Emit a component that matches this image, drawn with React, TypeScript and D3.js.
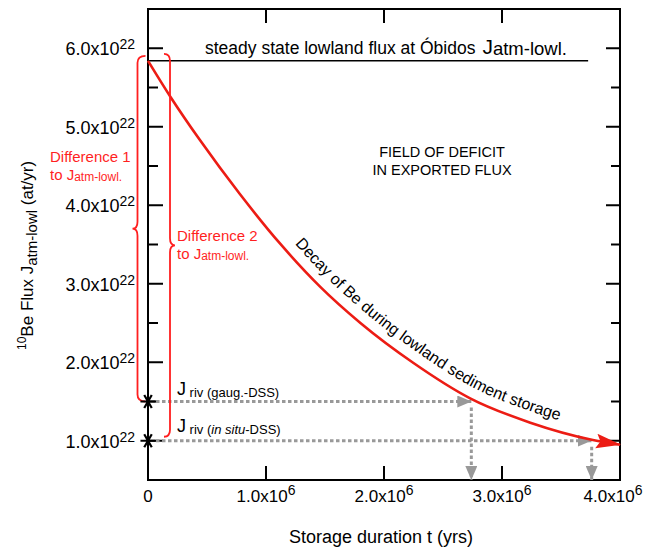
import React from 'react';
import * as d3 from 'd3';

const W = 650;
const H = 550;
const FONT = 'Liberation Sans, Arial, Helvetica, sans-serif';
const RED = '#ec1c14';
const TXT_RED = '#ff1f1f';
const GREY = '#999999';

// decay curve: storage time (yrs) vs 10Be flux (x10^22 at/yr)
const decayTime = [0, 0.195e6, 0.44e6, 0.78e6, 1.12e6, 1.46e6, 1.8e6, 2.25e6, 2.73e6, 3.24e6, 3.77e6, 4.0e6];
const decayFlux = [5.84, 5.37, 4.83, 4.14, 3.51, 2.96, 2.5, 1.99, 1.54, 1.23, 1.01, 0.95];

const steadyFlux = 5.84;
const steadyEnd = 3.73e6;

// river fluxes (gauging / in situ) and the storage durations they point to
const rivFlux = [1.5, 1.0];
const rivTime = [2.74e6, 3.76e6];

const xTicks = [0, 1e6, 2e6, 3e6, 4e6];
const xTickLabels = ['0', '1.0x10', '2.0x10', '3.0x10', '4.0x10'];
const xExp = '6';
const yTicks = [1, 2, 3, 4, 5, 6];
const yTickLabels = ['1.0x10', '2.0x10', '3.0x10', '4.0x10', '5.0x10', '6.0x10'];
const yMinor = [1.5, 2.5, 3.5, 4.5, 5.5];
const yExp = '22';

const x = d3.scaleLinear().domain([0, 4e6]).range([148, 620]);
const y = d3.scaleLinear().domain([0.5, 6.5]).range([480, 9]);

// curly brace along a vertical spine, dir -1 = tip to the left, +1 = tip to the right
function bracePath(sx: number, y0: number, y1: number, dir: number, curl: number, tip: number) {
  const ym = (y0 + y1) / 2;
  const r = 7;
  return `M${sx - dir * curl},${y0} Q${sx},${y0} ${sx},${y0 + r} L${sx},${ym - r} Q${sx},${ym} ${sx + dir * tip},${ym}`
    + ` Q${sx},${ym} ${sx},${ym + r} L${sx},${y1 - r} Q${sx},${y1} ${sx - dir * curl},${y1}`;
}

export default function App() {
  const pts: [number, number][] = decayTime.map((t, i) => [x(t), y(decayFlux[i])]);
  const line = d3.line().curve(d3.curveMonotoneX);
  const decayD = line(pts) || '';

  // baseline for the curved label, offset up-right of the curve
  const off = 11;
  const offPts: [number, number][] = pts.map((p, i) => {
    const a = pts[Math.max(i - 1, 0)];
    const b = pts[Math.min(i + 1, pts.length - 1)];
    const dx = b[0] - a[0];
    const dy = b[1] - a[1];
    const L = Math.hypot(dx, dy);
    return [p[0] + (off * dy) / L, p[1] - (off * dx) / L];
  });
  const labelD = line(offPts) || '';
  let startOffset = 0;
  for (let i = 1; i < offPts.length; i++) {
    const [x0, y0] = offPts[i - 1];
    const [x1, y1] = offPts[i];
    const seg = Math.hypot(x1 - x0, y1 - y0);
    if (x1 >= 295) {
      startOffset += seg * ((295 - x0) / (x1 - x0));
      break;
    }
    startOffset += seg;
  }

  const star = d3.symbol(d3.symbolAsterisk, 160)() || '';

  return (
    <svg width={W} height={H} style={{ position: 'absolute', left: 0, top: 0 }} fontFamily={FONT}>
      <defs>
        <marker id="redHead" viewBox="0 0 24 16" markerWidth={25} markerHeight={17} refX={23} refY={8}
          orient="auto" markerUnits="userSpaceOnUse">
          <path d="M0,1 L24,8 L0,15 L4,8 Z" fill={RED} />
        </marker>
        <marker id="greyHead" viewBox="0 0 14 12" markerWidth={14} markerHeight={12} refX={14} refY={6}
          orient="auto" markerUnits="userSpaceOnUse">
          <path d="M0,0 L14,6 L0,12 Z" fill={GREY} />
        </marker>
        <path id="decayLabel" d={labelD} fill="none" />
      </defs>

      {/* frame */}
      <rect x={x(0)} y={y(6.5)} width={x(4e6) - x(0)} height={y(0.5) - y(6.5)} fill="none" stroke="#000" strokeWidth={2} />

      {/* y ticks, left and right, pointing inward */}
      {yTicks.map(v => (
        <g key={'yt' + v}>
          <line x1={x(0)} x2={x(0) + 15} y1={y(v)} y2={y(v)} stroke="#000" strokeWidth={2} />
          <line x1={x(4e6)} x2={x(4e6) - 14} y1={y(v)} y2={y(v)} stroke="#000" strokeWidth={2} />
        </g>
      ))}
      {yMinor.map(v => (
        <g key={'ym' + v}>
          <line x1={x(0)} x2={x(0) + 10} y1={y(v)} y2={y(v)} stroke="#000" strokeWidth={2} />
          <line x1={x(4e6)} x2={x(4e6) - 9} y1={y(v)} y2={y(v)} stroke="#000" strokeWidth={2} />
        </g>
      ))}
      {yTicks.map((v, i) => (
        <text key={'yl' + v} x={135} y={y(v) + 7} textAnchor="end" fontSize={18}>
          {yTickLabels[i]}<tspan fontSize={14} dy={-6}>{yExp}</tspan>
        </text>
      ))}

      {/* x ticks, bottom and top */}
      {xTicks.slice(1, -1).map(t => (
        <g key={'xt' + t}>
          <line x1={x(t)} x2={x(t)} y1={y(0.5)} y2={y(0.5) - 14} stroke="#000" strokeWidth={2} />
          <line x1={x(t)} x2={x(t)} y1={y(6.5)} y2={y(6.5) + 14} stroke="#000" strokeWidth={2} />
        </g>
      ))}
      {xTicks.map((t, i) => (
        <text key={'xl' + t} x={x(t) + (i === xTicks.length - 1 ? -7 : 0)} y={502} textAnchor="middle" fontSize={17}>
          {xTickLabels[i]}
          {i > 0 && <tspan fontSize={14} dy={-7}>{xExp}</tspan>}
        </text>
      ))}

      {/* axis titles */}
      <text x={381} y={543} textAnchor="middle" fontSize={18}>Storage duration t (yrs)</text>
      <text transform="translate(33,350) rotate(-90)" textAnchor="start" fontSize={17}>
        <tspan fontSize={12} dy={-7}>10</tspan>
        <tspan dy={7}>Be Flux J</tspan>
        <tspan fontSize={15} dy={4}>atm-lowl</tspan>
        <tspan dy={-4}> (at/yr)</tspan>
      </text>

      {/* steady state flux */}
      <line x1={x(0)} x2={x(steadyEnd)} y1={y(steadyFlux)} y2={y(steadyFlux)} stroke="#000" strokeWidth={1.6} />
      <text x={205} y={54} fontSize={17.5}>
        steady state lowland flux at Óbidos<tspan fontSize={21} dx={7}>J</tspan>
        <tspan fontSize={18.5} dy={1}>atm-lowl.</tspan>
      </text>

      <text x={442} y={157} textAnchor="middle" fontSize={14.5}>FIELD OF DEFICIT</text>
      <text x={442} y={175} textAnchor="middle" fontSize={14.5}>IN EXPORTED FLUX</text>

      {/* grey dotted arrows from the river fluxes to storage durations */}
      {rivFlux.map((v, i) => (
        <g key={'riv' + i}>
          <line x1={x(0) + 8} x2={x(rivTime[i])} y1={y(v)} y2={y(v)} stroke={GREY} strokeWidth={3}
            strokeDasharray="3.5,2.5" markerEnd="url(#greyHead)" />
          <line x1={x(rivTime[i])} x2={x(rivTime[i])} y1={y(v) + 6} y2={y(0.5)} stroke={GREY} strokeWidth={3}
            strokeDasharray="3.5,2.5" markerEnd="url(#greyHead)" />
        </g>
      ))}

      {/* decay curve */}
      <path d={decayD} fill="none" stroke={RED} strokeWidth={2.6} markerEnd="url(#redHead)" />
      <text fontSize={16}>
        <textPath href="#decayLabel" startOffset={startOffset}>Decay of Be during lowland sediment storage</textPath>
      </text>

      {/* braces */}
      <path d={bracePath(137.5, y(steadyFlux) - 5, y(rivFlux[0]), -1, 8, 5)} fill="none" stroke={TXT_RED} strokeWidth={1.8} />
      <path d={bracePath(170, y(steadyFlux) - 7, y(rivFlux[1]) - 4, 1, 6, 5)} fill="none" stroke={TXT_RED} strokeWidth={1.8} />

      <g fill={TXT_RED} fontSize={15}>
        <text x={50} y={162}>Difference 1</text>
        <text x={50} y={180}>to J<tspan fontSize={12} dy={1}>atm-lowl.</tspan></text>
        <text x={177} y={241}>Difference 2</text>
        <text x={177} y={259}>to J<tspan fontSize={12} dy={1}>atm-lowl.</tspan></text>
      </g>

      {/* river flux labels */}
      <text x={177} y={395} fontSize={18}>J<tspan fontSize={13} dy={2}> riv (gaug.-DSS)</tspan></text>
      <text x={177} y={432} fontSize={18}>
        J<tspan fontSize={13} dy={2}> riv (</tspan><tspan fontSize={13} fontStyle="italic">in situ</tspan>
        <tspan fontSize={13}>-DSS)</tspan>
      </text>

      {/* stars on the axis */}
      {rivFlux.map((v, i) => (
        <path key={'st' + i} d={star} transform={`translate(${x(0)},${y(v)}) rotate(90)`} fill="none" stroke="#000" strokeWidth={2.2} />
      ))}
    </svg>
  );
}
